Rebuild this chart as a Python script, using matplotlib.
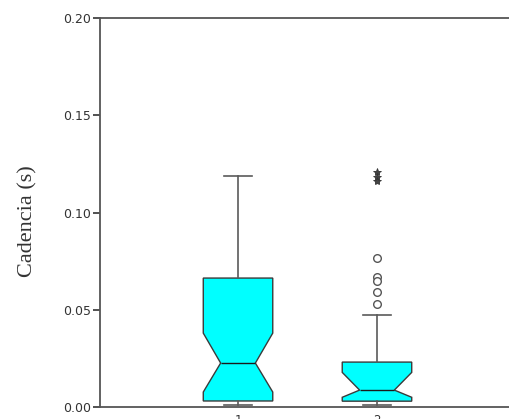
import matplotlib.pyplot as plt
import matplotlib as mpl

mpl.rcParams['axes.linewidth'] = 1.3

# box statistics (seconds)
groups = ['1', '2']
q1 = [0.0031, 0.0030]
med = [0.0226, 0.0087]
q3 = [0.0663, 0.0231]
whislo = [0.0010, 0.0010]
whishi = [0.1187, 0.0473]
ci_lo = [0.0077, 0.0050]
ci_hi = [0.0380, 0.0178]
outliers_2 = [0.0766, 0.0668, 0.0650, 0.0592, 0.0530]
extremes_2 = [0.1207, 0.1185, 0.1162]

stats = []
for i in range(len(groups)):
    stats.append({'label': groups[i], 'q1': q1[i], 'med': med[i], 'q3': q3[i],
                  'whislo': whislo[i], 'whishi': whishi[i],
                  'cilo': ci_lo[i], 'cihi': ci_hi[i], 'fliers': []})

fig = plt.figure(figsize=(5.09, 4.19), dpi=100)
ax = fig.add_axes([0.1965, 0.0286, 0.8035, 0.9284])

grey = '#5a5a5a'
ax.bxp(stats, positions=[1, 2], widths=0.5, shownotches=True, patch_artist=True,
       capwidths=0.2,
       boxprops=dict(facecolor='#00ffff', edgecolor='#3a3a3a', linewidth=1.0),
       medianprops=dict(color='#1a1a1a', linewidth=1.0),
       whiskerprops=dict(color=grey, linewidth=1.2),
       capprops=dict(color=grey, linewidth=1.2))

ax.plot([2] * len(outliers_2), outliers_2, linestyle='none', marker='o',
        markersize=5.5, markerfacecolor='white', markeredgecolor='#555555', markeredgewidth=1.0)
ax.plot([2] * len(extremes_2), extremes_2, linestyle='none', marker='*',
        markersize=6, markerfacecolor='#444444', markeredgecolor='#333333', markeredgewidth=0.6)

ax.set_xlim(0.007, 2.95)
ax.set_ylim(0.0, 0.20)
ax.set_yticks([0.0, 0.05, 0.10, 0.15, 0.20])
ax.set_yticklabels(['0.00', '0.05', '0.10', '0.15', '0.20'])
ax.set_xticks([1, 2])
ax.set_xticklabels(groups)

for s in ['left', 'top', 'bottom']:
    ax.spines[s].set_color('#555555')
ax.spines['right'].set_visible(False)
ax.tick_params(axis='y', labelsize=9, colors='#333333', length=5, width=1.2, pad=1.5)
ax.tick_params(axis='x', labelsize=8.5, colors='#333333', length=0, pad=5)

ax.set_ylabel('Cadencia (s)', family='Liberation Serif', fontsize=16, color='#333333')
ax.yaxis.set_label_coords(-0.152, 0.478)

plt.savefig('out.png', dpi=100)
